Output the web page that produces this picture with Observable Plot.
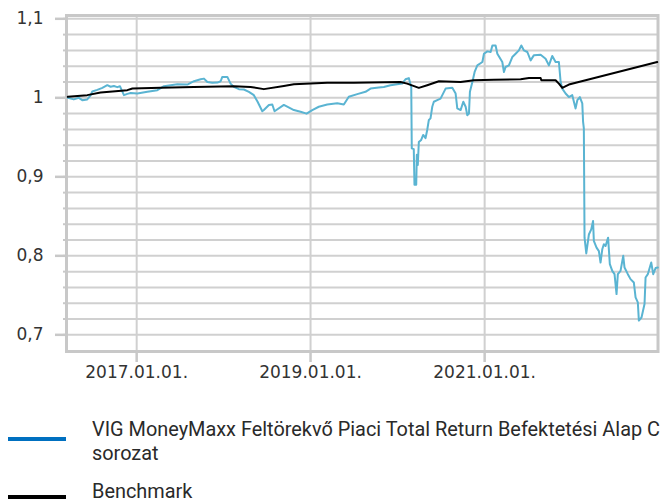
<!DOCTYPE html>
<html>
<head>
<meta charset="utf-8">
<script src="https://cdn.jsdelivr.net/npm/d3@7"></script>
<script src="https://cdn.jsdelivr.net/npm/@observablehq/plot@0.6"></script>
<style>
  html, body { margin: 0; padding: 0; background: #fff; }
  #wrap { position: relative; width: 664px; height: 502px; overflow: hidden; }
  .sw { position: absolute; left: 8px; width: 58px; height: 4px; }
  .lg { position: absolute; left: 92px; font-family: Roboto, "Noto Sans", sans-serif; font-size: 21px; line-height: 24px; color: #2a2a2a; white-space: nowrap; transform-origin: 0 0; }
</style>
</head>
<body>
<div id="wrap">
  <div id="chart"></div>
  <div class="sw" style="top:437px; background:#0070c0;"></div>
  <div class="lg" id="lg1" style="top:417px;"></div>
  <div class="sw" style="top:495px; background:#000;"></div>
  <div class="lg" id="lg2" style="top:481px; line-height:20px;"></div>
</div>
<script>
// ---- data (x as decimal years) ----
const fundYears = [2016.210,2016.279,2016.337,2016.376,2016.433,2016.471,2016.491,2016.548,2016.606,2016.663,2016.701,2016.739,2016.778,2016.808,2016.828,2016.854,2016.893,2016.931,2017.008,2017.123,2017.238,2017.314,2017.391,2017.468,2017.583,2017.659,2017.736,2017.774,2017.813,2017.870,2017.928,2017.966,2017.985,2018.043,2018.080,2018.118,2018.176,2018.233,2018.291,2018.348,2018.391,2018.445,2018.463,2018.521,2018.560,2018.586,2018.693,2018.770,2018.808,2018.885,2018.954,2019.020,2019.095,2019.192,2019.307,2019.383,2019.440,2019.537,2019.632,2019.690,2019.785,2019.843,2019.920,2019.997,2020.054,2020.092,2020.130,2020.158,2020.164,2020.187,2020.195,2020.215,2020.222,2020.233,2020.245,2020.272,2020.295,2020.322,2020.341,2020.360,2020.379,2020.399,2020.417,2020.456,2020.494,2020.552,2020.629,2020.667,2020.686,2020.724,2020.755,2020.782,2020.801,2020.820,2020.831,2020.859,2020.885,2020.916,2020.974,2020.992,2021.031,2021.069,2021.089,2021.126,2021.146,2021.203,2021.222,2021.241,2021.279,2021.318,2021.356,2021.394,2021.422,2021.452,2021.491,2021.529,2021.567,2021.644,2021.701,2021.739,2021.778,2021.816,2021.854,2021.874,2021.893,2021.931,2021.969,2022.008,2022.046,2022.066,2022.095,2022.123,2022.132,2022.141,2022.149,2022.169,2022.199,2022.226,2022.247,2022.256,2022.287,2022.314,2022.333,2022.353,2022.371,2022.391,2022.420,2022.440,2022.468,2022.494,2022.517,2022.532,2022.563,2022.594,2022.609,2022.647,2022.678,2022.716,2022.736,2022.762,2022.774,2022.805,2022.839,2022.851,2022.877,2022.916,2022.939,2022.966,2022.992];
const fundValues = [1.000,0.998,1.000,0.997,0.998,1.003,1.008,1.010,1.0126,1.016,1.014,1.015,1.0135,1.0147,1.0097,1.0034,1.005,1.006,1.0054,1.0076,1.0097,1.0147,1.016,1.0172,1.0168,1.021,1.0235,1.0243,1.020,1.019,1.0193,1.021,1.0265,1.0265,1.018,1.0138,1.011,1.0105,1.0076,1.0034,0.995,0.983,0.9845,0.991,0.9916,0.983,0.991,0.9866,0.9845,0.9824,0.980,0.9845,0.9887,0.9916,0.993,0.9916,1.0013,1.0047,1.0076,1.0117,1.013,1.0138,1.016,1.0172,1.018,1.0235,1.025,1.0138,0.936,0.935,0.890,0.890,0.928,0.915,0.944,0.9467,0.953,0.949,0.9593,0.972,0.974,0.9887,0.995,0.997,0.999,1.0117,1.0126,1.0054,0.9866,0.9845,0.995,0.9887,0.978,0.980,1.0076,1.020,1.0327,1.041,1.0453,1.0558,1.0588,1.058,1.0663,1.0663,1.0558,1.0453,1.0327,1.039,1.041,1.0516,1.0558,1.060,1.0663,1.060,1.058,1.0474,1.054,1.0546,1.0495,1.041,1.053,1.0453,1.0453,1.020,1.0117,1.0054,1.001,1.0034,0.9866,0.997,1.001,0.993,0.970,0.9614,0.823,0.803,0.827,0.8335,0.844,0.8188,0.8103,0.806,0.7915,0.8083,0.8146,0.8125,0.823,0.7894,0.781,0.7768,0.7516,0.7768,0.781,0.800,0.7852,0.7768,0.7705,0.7663,0.7474,0.741,0.718,0.7222,0.739,0.7726,0.7768,0.7915,0.7768,0.7845,0.7852];

const benchYears = [2016.210,2016.433,2016.586,2016.893,2016.951,2017.276,2017.659,2018.118,2018.310,2018.463,2018.693,2018.808,2019.000,2019.192,2019.498,2020.034,2020.111,2020.245,2020.341,2020.475,2020.724,2020.877,2021.107,2021.414,2021.509,2021.644,2021.652,2021.816,2021.854,2021.893,2021.969,2022.985];
const benchValues = [1.0013,1.0034,1.0067,1.0097,1.0117,1.0126,1.0138,1.0147,1.0138,1.011,1.015,1.0172,1.018,1.019,1.019,1.020,1.018,1.0126,1.016,1.021,1.020,1.0222,1.023,1.0235,1.025,1.025,1.0222,1.0222,1.018,1.0126,1.0168,1.0453];

const seriesNames = ["VIG MoneyMaxx Feltörekvő Piaci Total Return Befektetési Alap C", "sorozat", "Benchmark"];

const xDomainYears = [2016.195, 2022.994];
const xTickDates = ["2017-01-01", "2019-01-01", "2021-01-01"];
const xTickLabels = ["2017.01.01.", "2019.01.01.", "2021.01.01."];

const yDomain = [0.6789, 1.1042];
const yTicks = [0.7, 0.8, 0.9, 1, 1.1];
const yTickLabels = ["0,7", "0,8", "0,9", "1", "1,1"];
const yGridValues = [0.70,0.72,0.74,0.76,0.78,0.80,0.82,0.84,0.86,0.88,0.90,0.92,0.94,0.96,0.98,1.00,1.02,1.04,1.06,1.08,1.10];

// ---- build ----
const toDate = (y) => { const Y = Math.floor(y); const a = Date.UTC(Y, 0, 1), b = Date.UTC(Y + 1, 0, 1); return new Date(a + (y - Y) * (b - a)); };
const fund = fundYears.map((y, i) => ({date: toDate(y), value: fundValues[i]}));
const bench = benchYears.map((y, i) => ({date: toDate(y), value: benchValues[i]}));
const xTicks = xTickDates.map(s => new Date(s + "T00:00:00Z"));
const xLabelMap = new Map(xTicks.map((d, i) => [d.getTime(), xTickLabels[i]]));
const yLabelMap = new Map(yTicks.map((v, i) => [v, yTickLabels[i]]));

const gridColor = "#d0d0d0";
const axisColor = "#c8c8c8";

const chart = Plot.plot({
  width: 664,
  height: 400,
  marginTop: 15,
  marginBottom: 49,
  marginLeft: 66,
  marginRight: 6.5,
  style: {fontFamily: "DejaVu Sans", fontSize: "17px", color: "#333", background: "#fff", overflow: "visible"},
  x: {type: "utc", domain: xDomainYears.map(toDate)},
  y: {domain: yDomain},
  marks: [
    Plot.gridY(yGridValues, {stroke: gridColor, strokeOpacity: 1, strokeWidth: 2}),
    Plot.gridX(xTicks, {stroke: gridColor, strokeOpacity: 1, strokeWidth: 2}),
    Plot.frame({stroke: axisColor, strokeWidth: 3}),
    Plot.axisY(yTicks, {tickSize: 11, tickPadding: 12, stroke: axisColor, strokeWidth: 2.5, fill: "#333", fontSize: 17, tickFormat: v => yLabelMap.get(v), label: null}),
    Plot.axisY(yGridValues, {tickSize: 3, tickPadding: 0, stroke: axisColor, strokeWidth: 2, tickFormat: () => "", label: null}),
    Plot.axisX(xTicks, {tickSize: 11, tickPadding: 3, stroke: axisColor, strokeWidth: 2.5, fill: "#333", fontSize: 17, tickFormat: d => xLabelMap.get(d.getTime()), label: null}),
    Plot.line(fund, {x: "date", y: "value", stroke: "#5ab4d2", strokeWidth: 2}),
    Plot.line(bench, {x: "date", y: "value", stroke: "#000", strokeWidth: 2})
  ]
});
document.getElementById("chart").appendChild(chart);

// legend: condensed look, fitted to the reference's text width
const lg1 = document.getElementById("lg1");
const lg2 = document.getElementById("lg2");
lg1.innerHTML = seriesNames[0] + "<br>" + seriesNames[1];
lg2.textContent = seriesNames[2];
const span = document.createElement("span");
span.textContent = seriesNames[0];
span.style.cssText = "font-family: Roboto, 'Noto Sans', sans-serif; font-size: 21px; white-space: nowrap; position: absolute; visibility: hidden;";
document.body.appendChild(span);
const w = span.getBoundingClientRect().width;
span.remove();
const k = 568 / w;
lg1.style.transform = `scaleX(${k})`;
lg2.style.transform = `scaleX(${k})`;
</script>
</body>
</html>
